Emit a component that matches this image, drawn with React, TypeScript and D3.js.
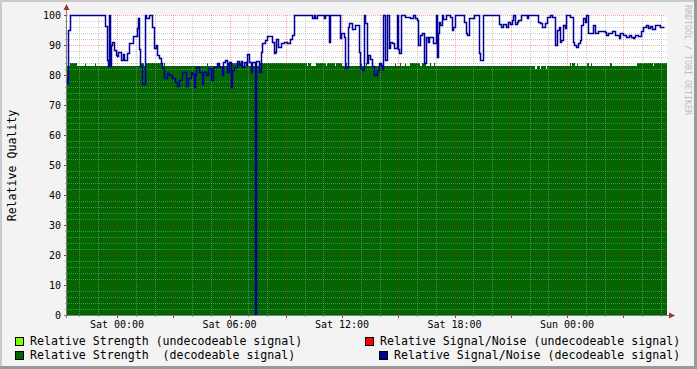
import React from "react";
import * as d3 from "d3";

// ---- data ----
const START = new Date(2009, 0, 2, 21, 20, 0); // Fri 21:20
const STEP_SEC = 192;
const STRENGTH_SAMPLES = 600;
const SNR_SAMPLES = 598;

// [sample index, value] change points (value held until next change)
const strengthRuns: [number, number][] = [
  [0, 83], [3, 84], [10, 83], [18, 84], [19, 83], [28, 84], [29, 83], [73, 84], [77, 83], [78, 84], [96, 83], [97, 84], [98, 83],
  [140, 84], [141, 83], [151, 84], [152, 83], [161, 84], [164, 83], [165, 84], [172, 83], [173, 84], [174, 83], [193, 84],
  [240, 83], [241, 84], [244, 83], [249, 84], [259, 83], [260, 84], [268, 83], [269, 84], [275, 83], [279, 84], [280, 83],
  [294, 84], [295, 83], [299, 84], [300, 83], [313, 84], [314, 83], [328, 84], [329, 83], [333, 84], [334, 83], [338, 84],
  [339, 83], [343, 84], [353, 83], [355, 84], [359, 83], [363, 84], [364, 83], [367, 84], [368, 83], [468, 82], [470, 83],
  [473, 82], [474, 83], [479, 82], [480, 83], [503, 84], [504, 83], [505, 84], [508, 83], [510, 84], [511, 83], [520, 84],
  [522, 83], [524, 84], [525, 83], [543, 84], [545, 83], [570, 84], [586, 83], [587, 84],
];

const snrRuns: [number, number][] = [
  [0, 79], [1, 77.5], [2, 95], [4, 100],
  [39, 96.3], [41, 85], [42, 83], [43, 100], [44, 83], [45, 90], [46, 91], [48, 88.3], [50, 86.7], [51, 86.3], [52, 87.8],
  [55, 85], [57, 87], [58, 85], [61, 87.4], [63, 90.8], [67, 93], [71, 95.6], [72, 99], [73, 88.6], [74, 83], [76, 77],
  [79, 100], [80, 99], [83, 100],
  [86, 96], [88, 88.9], [90, 90], [91, 86.7], [93, 85.6], [95, 84], [96, 82.2], [98, 79], [101, 80.8], [103, 80], [106, 79],
  [109, 77.8], [111, 76.3], [113, 78.3], [116, 81.1], [118, 81], [120, 76.3], [122, 79], [125, 81], [126, 80.3], [128, 76],
  [129, 80], [130, 82.8],
  [133, 81.1], [136, 77], [137, 81], [140, 80], [142, 82.2], [145, 78.3], [147, 82.8], [151, 84], [153, 82.8], [156, 80],
  [157, 84.4], [159, 85], [161, 81], [163, 84.4], [165, 76.1], [166, 81.7], [168, 82.8], [171, 84.8], [173, 83.3],
  [175, 84.8], [176, 82.8], [178, 84.4], [180, 83.5], [181, 86.9], [183, 84.4], [185, 81.1], [186, 84.4], [189, 0],
  [190, 84.7], [193, 81.1], [195, 87.8], [196, 90.8], [199, 91.7], [201, 93], [206, 91.1], [208, 87.2], [209, 87.8],
  [210, 91.9], [212, 89.4], [215, 90.8], [218, 91], [221, 90.8], [224, 91.9], [226, 93.3], [228, 100],
  [246, 99], [248, 100], [249, 98.9], [251, 100], [258, 99], [259, 100], [263, 91], [264, 100], [274, 92.2], [275, 93.9],
  [278, 92.5], [279, 82.2], [280, 82.8], [282, 96], [283, 97.5], [286, 95.5], [289, 96.7], [293, 87.8], [294, 82.2],
  [296, 81.7], [298, 100], [299, 97.2], [301, 84], [302, 86.7], [304, 85.5], [306, 83], [308, 80], [311, 81.7], [313, 84],
  [315, 83.5], [316, 82], [317, 100], [319, 85], [321, 100], [323, 89], [324, 90.9], [326, 90.5], [328, 89], [331, 100],
  [332, 88.7], [333, 87.2], [335, 100], [339, 99.4], [344, 98.9], [347, 100],
  [349, 98.9], [351, 98.3], [352, 90], [354, 93.3], [356, 93.9], [358, 83.9], [360, 92.8], [362, 91.1], [363, 92.8],
  [367, 90.6], [370, 100], [371, 86.1], [372, 93.9], [373, 97.8], [374, 96.7], [376, 100], [377, 98.7], [380, 100],
  [384, 99.5], [386, 95], [387, 96], [389, 100], [398, 97.8], [400, 93.9], [401, 93.3], [403, 98.9], [408, 100],
  [413, 87.2], [414, 85], [417, 100],
  [433, 97], [435, 96], [437, 97], [440, 96], [442, 97.8], [444, 97], [446, 98.3], [447, 100], [449, 97], [451, 97.8],
  [452, 98.3], [455, 100], [461, 98.9], [462, 100],
  [472, 97.8], [474, 97.5], [476, 96], [479, 97.2], [481, 99.2], [484, 100], [486, 99.2], [489, 90], [491, 95], [493, 96],
  [494, 91], [495, 91.7], [497, 96.7], [499, 95.6], [500, 100], [504, 99.4], [507, 91.1], [508, 90], [510, 89.2],
  [512, 90.6], [514, 91.7], [515, 96.7], [517, 99], [519, 97.8], [520, 100], [522, 93.9], [527, 96.7], [529, 93.9],
  [532, 94.8], [539, 94.4], [540, 93.3], [542, 93.9], [546, 94.8], [549, 93.3], [553, 92.2], [554, 93.9], [557, 93.3],
  [560, 92.8], [563, 93.3], [565, 92.8], [567, 92.2], [568, 92.8], [569, 93.3], [572, 93], [575, 94.8], [577, 95.9],
  [580, 96.7], [582, 95.6], [584, 96.4], [586, 95.3], [589, 96.7], [594, 96], [596, 95.9],
];

const yTicks = [0, 10, 20, 30, 40, 50, 60, 70, 80, 90, 100];

const legendItems = [
  { label: "Relative Strength (undecodeable signal)", color: "#7FFF00" },
  { label: "Relative Signal/Noise (undecodeable signal)", color: "#FF0000" },
  { label: "Relative Strength  (decodeable signal)", color: "#006600" },
  { label: "Relative Signal/Noise (decodeable signal)", color: "#000099" },
];

const yTitle = "Relative Quality";
const watermark = "RRDTOOL / TOBI OETIKER";

// ---- helpers ----
function expand(runs: [number, number][], n: number) {
  const out: { t: Date; v: number }[] = [];
  let k = 0;
  for (let i = 0; i < n; i++) {
    while (k + 1 < runs.length && runs[k + 1][0] <= i) k++;
    out.push({ t: new Date(START.getTime() + i * STEP_SEC * 1000), v: runs[k][1] });
  }
  out.push({ t: new Date(START.getTime() + n * STEP_SEC * 1000), v: out[out.length - 1].v });
  return out;
}

const W = 697;
const H = 369;
const L = 67;
const R = 667;
const T = 15;
const B = 315;
const MONO = "'DejaVu Sans Mono', monospace";

export default function App() {
  const end = new Date(START.getTime() + STRENGTH_SAMPLES * STEP_SEC * 1000);
  const x = d3.scaleTime().domain([START, end]).range([L, R]);
  const y = d3.scaleLinear().domain([0, 100]).range([B, T]);

  const strength = expand(strengthRuns, STRENGTH_SAMPLES);
  const snr = expand(snrRuns, SNR_SAMPLES);

  const area = d3
    .area<{ t: Date; v: number }>()
    .x((d) => x(d.t))
    .y0(y(0))
    .y1((d) => Math.round(y(d.v)))
    .curve(d3.curveStepAfter);
  const line = d3
    .line<{ t: Date; v: number }>()
    .x((d) => Math.round(x(d.t)) - 0.5)
    .y((d) => Math.min(B - 0.5, Math.round(y(d.v)) + 0.5))
    .curve(d3.curveStepAfter);

  const hours = d3.timeHour.every(1)!.range(START, end);
  const majorHours = hours.filter((h) => h.getHours() % 3 === 0);
  const labelHours = hours.filter((h) => h.getHours() % 6 === 0);
  const minorY = d3.range(2, 100, 2).filter((v) => v % 10 !== 0);
  const fmt = d3.timeFormat("%a %H:%M");

  const legendPos = [
    { bx: 15, by: 337, tx: 30, ty: 341 },
    { bx: 365, by: 337, tx: 380, ty: 341 },
    { bx: 15, by: 351, tx: 30, ty: 355 },
    { bx: 379, by: 351, tx: 394, ty: 355 },
  ];

  return (
    <div style={{ position: "absolute", left: 0, top: 0 }}>
      <svg width={W} height={H} style={{ display: "block" }}>
        <rect x={0} y={0} width={W} height={H} fill="#F3F3F3" />
        <rect x={0} y={0} width={W} height={2} fill="#CBCBCB" />
        <rect x={0} y={0} width={2} height={H} fill="#CBCBCB" />
        <rect x={0} y={H - 3} width={W} height={3} fill="#999999" />
        <rect x={W - 3} y={0} width={3} height={H} fill="#999999" />

        <rect x={L} y={T} width={R - L} height={B - T} fill="#FFFFFF" />

        <path d={area(strength) || ""} fill="#006600" shapeRendering="crispEdges" />

        <g strokeDasharray="1,1" shapeRendering="crispEdges">
          {minorY.map((v) => (
            <line key={"my" + v} x1={L} x2={R} y1={Math.round(y(v)) + 0.5} y2={Math.round(y(v)) + 0.5}
              stroke="#A0A0A0" strokeOpacity={0.55} />
          ))}
          {hours.filter((h) => h.getHours() % 3 !== 0).map((h) => (
            <line key={"mx" + h.getTime()} x1={Math.round(x(h)) + 0.5} x2={Math.round(x(h)) + 0.5} y1={T} y2={B}
              stroke="#A0A0A0" strokeOpacity={0.55} />
          ))}
          {yTicks.filter((v) => v > 0).map((v) => (
            <line key={"My" + v} x1={L} x2={R} y1={Math.round(y(v)) + 0.5} y2={Math.round(y(v)) + 0.5}
              stroke="#FF0000" strokeOpacity={0.35} />
          ))}
          {majorHours.map((h) => (
            <line key={"Mx" + h.getTime()} x1={Math.round(x(h)) + 0.5} x2={Math.round(x(h)) + 0.5} y1={T} y2={B}
              stroke="#FF0000" strokeOpacity={0.35} />
          ))}
        </g>

        <path d={line(snr) || ""} fill="none" stroke="#000099" strokeWidth={1.5} strokeLinejoin="miter" />

        <g shapeRendering="crispEdges">
          {minorY.map((v) => (
            <line key={"ty" + v} x1={L - 2} x2={L} y1={Math.round(y(v)) + 0.5} y2={Math.round(y(v)) + 0.5} stroke="#A0A0A0" />
          ))}
          {yTicks.map((v) => (
            <line key={"tY" + v} x1={L - 3} x2={L} y1={Math.round(y(v)) + 0.5} y2={Math.round(y(v)) + 0.5} stroke="#993333" />
          ))}
          {hours.map((h) => (
            <line key={"tx" + h.getTime()} x1={Math.round(x(h)) + 0.5} x2={Math.round(x(h)) + 0.5} y1={B} y2={B + 2} stroke="#A0A0A0" />
          ))}
          {majorHours.map((h) => (
            <line key={"tX" + h.getTime()} x1={Math.round(x(h)) + 0.5} x2={Math.round(x(h)) + 0.5} y1={B} y2={B + 3} stroke="#993333" />
          ))}
        </g>

        <line x1={L - 0.5} x2={L - 0.5} y1={B + 3} y2={T - 8} stroke="#808080" strokeWidth={1} />
        <line x1={L - 3} x2={R + 3} y1={B + 0.5} y2={B + 0.5} stroke="#808080" strokeWidth={1} />
        <path d={`M${L - 3.5},${T - 5} L${L - 0.5},${T - 11} L${L + 2.5},${T - 5} Z`} fill="#993333" />
        <path d={`M${R + 2},${B - 2.5} L${R + 8},${B + 0.5} L${R + 2},${B + 3.5} Z`} fill="#993333" />

        <g fontFamily={MONO} fontSize={10} fill="#000">
          {yTicks.map((v) => (
            <text key={"ly" + v} x={61} y={y(v) + 3.5} textAnchor="end">{v}</text>
          ))}
          {labelHours.map((h) => (
            <text key={"lx" + h.getTime()} x={x(h)} y={328} textAnchor="middle">{fmt(h)}</text>
          ))}
        </g>

        <text x={0} y={0} transform="translate(15.5,165.5) rotate(-90)" textAnchor="middle"
          fontFamily={MONO} fontSize={11.6} fill="#000">{yTitle}</text>

        <text x={0} y={0} transform="translate(685,5) rotate(90)" textAnchor="start"
          fontFamily={MONO} fontSize={8.3} fill="#BDBDBD">{watermark}</text>

        <g fontFamily={MONO} fontSize={11.6} fill="#000">
          {legendItems.map((it, i) => (
            <g key={it.label}>
              <rect x={legendPos[i].bx + 0.5} y={legendPos[i].by + 0.5} width={8} height={8} fill={it.color} stroke="#000" strokeWidth={1} />
              <text x={legendPos[i].tx} y={legendPos[i].ty + 4} xmlSpace="preserve" style={{ whiteSpace: "pre" }}>{it.label}</text>
            </g>
          ))}
        </g>
      </svg>
    </div>
  );
}
